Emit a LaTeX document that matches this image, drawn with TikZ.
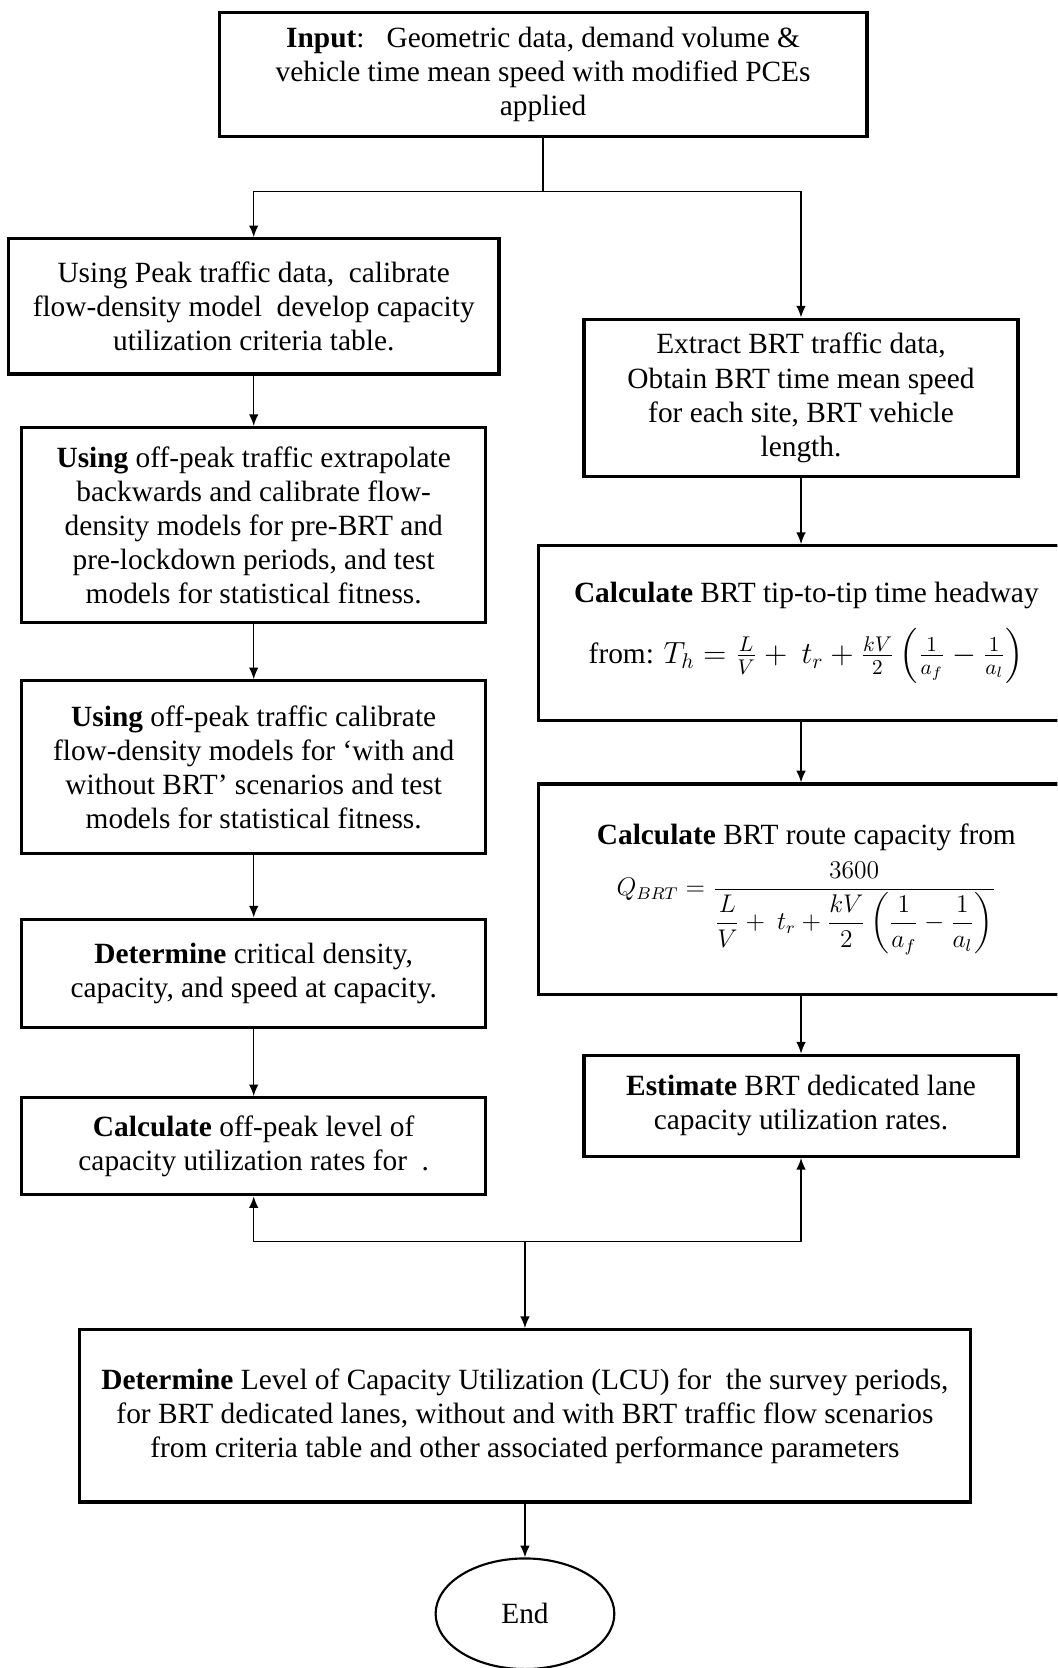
\documentclass[tikz,border=0pt]{standalone}
\usepackage{amsmath}
\usepackage{fontspec}
\setmainfont{Liberation Serif}
\usetikzlibrary{arrows.meta,shapes.geometric}
\begin{document}
\begin{tikzpicture}[x=0.5pt,y=-0.5pt,
  box/.style={draw,line width=1.5pt,rectangle,align=center,inner sep=0pt,
    font=\fontsize{13.8}{16}\selectfont},
  arr/.style={line width=0.7pt,-{Latex[length=5.5pt,width=4.5pt]}},
  ln/.style={line width=0.7pt}]
\useasboundingbox (0,0) rectangle (994,1568);
\clip (0,0) rectangle (994,1568);
\node[box,minimum width=304.5pt,minimum height=58pt] (in) at (510.5,70)
  {\textbf{Input}:\ \ \ Geometric data, demand volume \&\\ vehicle time mean speed with modified PCEs\\ applied};
\node[box,minimum width=230.5pt,minimum height=63.5pt] (L1) at (238.5,288)
  {Using Peak traffic data,\ \ calibrate\\ flow-density model\ \ develop capacity\\ utilization criteria table.};
\node[box,minimum width=204pt,minimum height=74pt] (R1) at (753,374)
  {Extract BRT traffic data,\\ Obtain BRT time mean speed\\ for each site, BRT vehicle\\ length.};
\node[box,minimum width=218pt,minimum height=91.5pt] (L2) at (238.5,493.5)
  {\textbf{Using} off-peak traffic extrapolate\\ backwards and calibrate flow-\\ density models for pre-BRT and\\ pre-lockdown periods, and test\\ models for statistical fitness.};
\node[box,minimum width=218pt,minimum height=81pt] (L3) at (238.5,721)
  {\textbf{Using} off-peak traffic calibrate\\ flow-density models for ‘with and\\ without BRT’ scenarios and test\\ models for statistical fitness.};
\node[box,minimum width=218pt,minimum height=51pt] (L4) at (238.5,915)
  {\textbf{Determine} critical density,\\ capacity, and speed at capacity.};
\node[box,minimum width=218pt,minimum height=45.5pt] (L5) at (238.5,1077.5)
  {\textbf{Calculate} off-peak level of\\ capacity utilization rates for\ \ .};
\node[box,minimum width=252pt,minimum height=82pt] (R2) at (758,595)
  {\textbf{Calculate} BRT tip-to-tip time headway\\[8pt] from: $T_h=\frac{L}{V}+\ t_r+\frac{kV}{2}\left(\frac{1}{a_f}-\frac{1}{a_l}\right)$};
\node[box,minimum width=252pt,minimum height=99pt] (R3) at (758,836)
  {\textbf{Calculate} BRT route capacity from\\[4pt] {\fontsize{12}{14}\selectfont$Q_{BRT}=\dfrac{3600}{\dfrac{L}{V}+\ t_r+\dfrac{kV}{2}\left(\dfrac{1}{a_f}-\dfrac{1}{a_l}\right)}$}};
\node[box,minimum width=204pt,minimum height=47.5pt] (R4) at (753,1039.5)
  {\textbf{Estimate} BRT dedicated lane\\ capacity utilization rates.};
\node[box,minimum width=418.5pt,minimum height=81pt] (F) at (493.5,1331)
  {\textbf{Determine} Level of Capacity Utilization (LCU) for\ \ the survey periods,\\ for BRT dedicated lanes, without and with BRT traffic flow scenarios\\ from criteria table and other associated performance parameters};
\node[draw,ellipse,line width=1pt,minimum width=84pt,minimum height=52pt,inner sep=0pt,
  font=\fontsize{13.8}{16}\selectfont] (E) at (493.5,1517) {End};
% connectors
\coordinate (b1) at (510.5,180);
\coordinate (b2) at (493.5,1167);
\draw[ln] (in.south) -- (b1);
\draw[arr] (b1) -| (L1.north);
\draw[arr] (b1) -| (R1.north);
\draw[arr] (L1.south) -- (L2.north);
\draw[arr] (L2.south) -- (L3.north);
\draw[arr] (L3.south) -- (L4.north);
\draw[arr] (L4.south) -- (L5.north);
\draw[arr] (R1.south) -- (R1.south |- R2.north);
\draw[arr] (R1.south |- R2.south) -- (R1.south |- R3.north);
\draw[arr] (R1.south |- R3.south) -- (R4.north);
\draw[arr] (b2) -| (L5.south);
\draw[arr] (b2) -| (R4.south);
\draw[arr] (b2) -- (F.north);
\draw[arr] (F.south) -- (E.north);
\end{tikzpicture}
\end{document}
